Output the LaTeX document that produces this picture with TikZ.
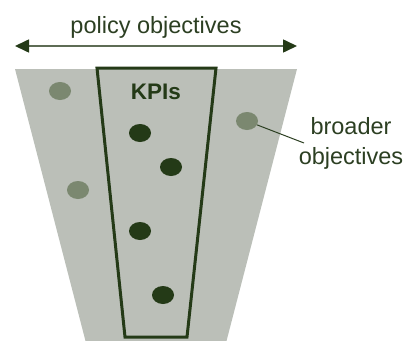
\documentclass[tikz,border=0pt]{standalone}
\usepackage{fontspec}
\setmainfont{Liberation Sans}
\usetikzlibrary{arrows.meta,shapes.geometric}
\definecolor{funnel}{HTML}{BBBFB8}
\definecolor{deep}{HTML}{243A17}
\definecolor{soft}{HTML}{7B8870}
\definecolor{ink}{HTML}{2C3F22}
\definecolor{rule}{HTML}{5E6C55}
\tikzset{
  kpidot/.style={ellipse, fill=deep, minimum width=22pt, minimum height=18pt, inner sep=0pt},
  widedot/.style={ellipse, fill=soft, minimum width=22pt, minimum height=18pt, inner sep=0pt},
  label/.style={text=ink, inner sep=0pt, font=\fontsize{23.5}{30}\selectfont},
}
\begin{document}
\begin{tikzpicture}[x=1pt,y=-1pt]
\useasboundingbox (0,0) rectangle (409,340);
% outer funnel of broader objectives
\fill[funnel] (15,69) -- (297,69) -- (226.5,341) -- (85.5,341) -- cycle;
% inner funnel of KPIs
\draw[deep, line width=3pt, line join=miter] (97,68) -- (216,68) -- (187,337) -- (125,337) -- cycle;
% policy objectives span
\coordinate (pl) at (15,46);
\coordinate (pr) at (297,46);
\draw[rule, line width=1.6pt, {Triangle[length=14pt,width=13pt,color=deep]}-{Triangle[length=14pt,width=13pt,color=deep]}] (pl) -- (pr);
\node[label, anchor=base] (policy) at (156,33) {policy objectives};
\node[label, anchor=base, font=\fontsize{22.5}{28}\selectfont\bfseries, text=deep] (kpis) at (156,99) {KPIs};
% objectives
\node[widedot] (b1) at (60,91) {};
\node[widedot] (b2) at (247,121) {};
\node[widedot] (b3) at (78,190) {};
\node[kpidot] (k1) at (140,133) {};
\node[kpidot] (k2) at (171,167) {};
\node[kpidot] (k3) at (140,231) {};
\node[kpidot] (k4) at (163,295) {};
% callout
\node[label, anchor=base, align=center] (broad) at (351,164) {broader\\objectives};
\coordinate (tip) at (304,143);
\draw[ink, line width=1pt] (b2) -- (tip);
\end{tikzpicture}
\end{document}
